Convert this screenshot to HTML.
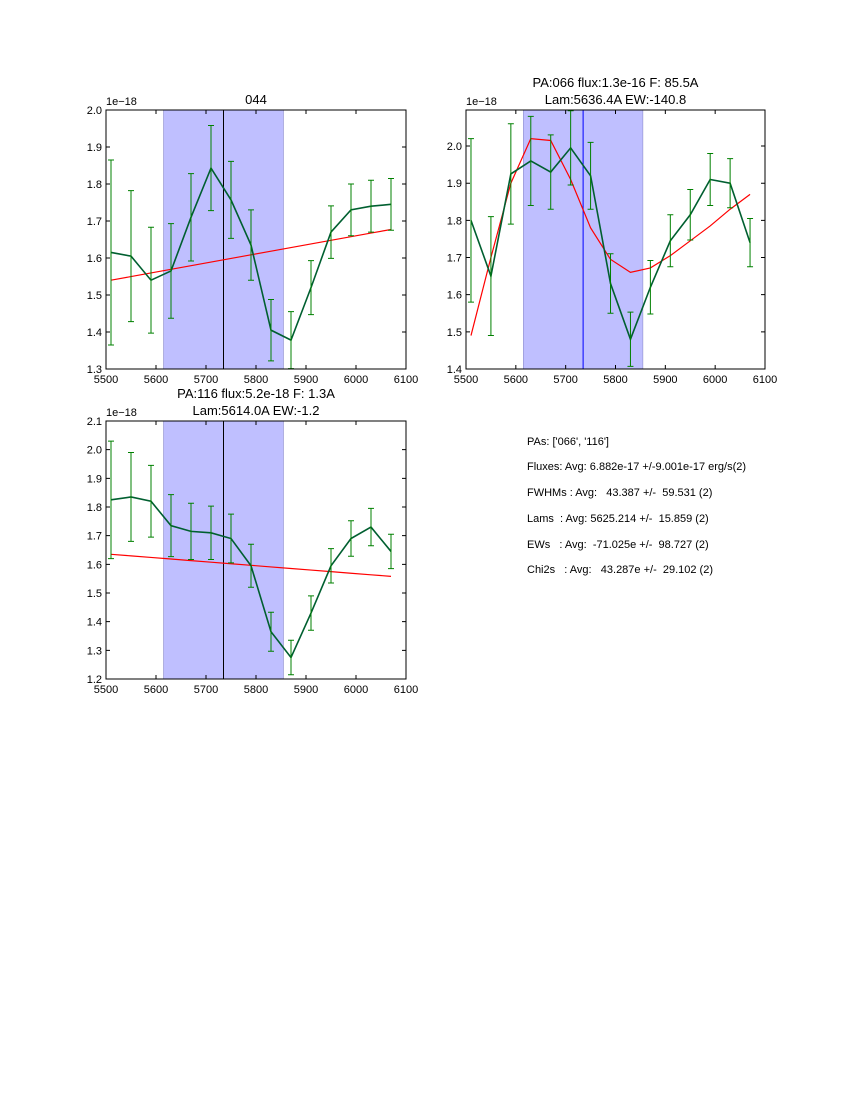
<!DOCTYPE html>
<html><head><meta charset="utf-8"><style>
body{margin:0;background:#fff;}
svg text{font-family:"Liberation Sans",sans-serif;}
#info text{white-space:pre;}
</style></head><body>
<svg id="s" width="850" height="1100" xmlns="http://www.w3.org/2000/svg">
<g id="info" font-size="11" fill="#000" xml:space="preserve">
<text x="527" y="445">PAs: ['066', '116']</text>
<text x="527" y="470">Fluxes: Avg: 6.882e-17 +/-9.001e-17 erg/s(2)</text>
<text x="527" y="496">FWHMs : Avg:   43.387 +/-  59.531 (2)</text>
<text x="527" y="522">Lams  : Avg: 5625.214 +/-  15.859 (2)</text>
<text x="527" y="548">EWs   : Avg:  -71.025e +/-  98.727 (2)</text>
<text x="527" y="573">Chi2s   : Avg:   43.287e +/-  29.102 (2)</text>
</g>
</svg>
<script>
const waves=[5510,5550,5590,5630,5670,5710,5750,5790,5830,5870,5910,5950,5990,6030,6070];
const flux1=[1.615,1.605,1.54,1.565,1.71,1.843,1.757,1.635,1.405,1.378,1.52,1.67,1.73,1.74,1.745];
const err1=[0.25,0.177,0.143,0.128,0.118,0.115,0.104,0.095,0.083,0.077,0.073,0.071,0.07,0.07,0.07];
const fit1=[1.54,1.5498,1.5596,1.5694,1.5792,1.589,1.5988,1.6086,1.6184,1.6282,1.638,1.6478,1.6576,1.6674,1.677];
const flux2=[1.8,1.65,1.925,1.96,1.93,1.995,1.92,1.63,1.48,1.62,1.745,1.815,1.91,1.9,1.74];
const err2=[0.22,0.16,0.135,0.12,0.1,0.1,0.09,0.08,0.073,0.072,0.07,0.068,0.07,0.066,0.065];
const fit2=[1.49,1.7,1.9,2.02,2.015,1.91,1.78,1.695,1.66,1.672,1.705,1.745,1.785,1.83,1.87];
const flux3=[1.825,1.835,1.82,1.735,1.715,1.71,1.69,1.595,1.365,1.275,1.43,1.595,1.69,1.73,1.645];
const err3=[0.205,0.155,0.125,0.108,0.098,0.093,0.085,0.075,0.068,0.06,0.06,0.06,0.062,0.065,0.06];
const fit3=[1.635,1.6295,1.624,1.6185,1.613,1.6075,1.602,1.5965,1.591,1.5855,1.58,1.5745,1.569,1.5635,1.558];
const xTicks=[5500,5600,5700,5800,5900,6000,6100];
const yTicks1=[1.3,1.4,1.5,1.6,1.7,1.8,1.9,2.0];
const yTicks2=[1.4,1.5,1.6,1.7,1.8,1.9,2.0];
const yTicks3=[1.2,1.3,1.4,1.5,1.6,1.7,1.8,1.9,2.0,2.1];
const band=[5615,5855], center=5735;
const NS="http://www.w3.org/2000/svg", svg=document.getElementById('s');
function mk(t,a,p){const e=document.createElementNS(NS,t);for(const k in a)e.setAttribute(k,a[k]);(p||svg).appendChild(e);return e;}
function panel(o){
 const g=mk('g',{});
 
 
 const X=v=>o.x0+(v-5500)/600*(o.x1-o.x0);
 const Y=v=>o.y1-(v-o.ymin)/(o.ymax-o.ymin)*(o.y1-o.y0);
 const b=mk('rect',{x:X(band[0]),y:o.y0,width:X(band[1])-X(band[0]),height:o.y1-o.y0,fill:'#bfbfff',stroke:'#8080c0','stroke-width':0.5},g);
 
 const c=mk('line',{x1:X(center),x2:X(center),y1:o.y0,y2:o.y1,stroke:o.vcol,'stroke-width':1},g);
 
 const fl=mk('polyline',{points:waves.map((w,i)=>X(w)+','+Y(o.fit[i])).join(' '),fill:'none',stroke:'#ff0000','stroke-width':1.2},g);
 
 const dl=mk('polyline',{points:waves.map((w,i)=>X(w)+','+Y(o.flux[i])).join(' '),fill:'none',stroke:'#005f30','stroke-width':1.6},g);
 
 waves.forEach((w,i)=>{
  const x=X(w),t=Y(o.flux[i]+o.err[i]),bb=Y(o.flux[i]-o.err[i]);
  const e=mk('path',{d:`M${x},${t}V${bb}M${x-3},${t}h6M${x-3},${bb}h6`,stroke:'#008000','stroke-width':1,fill:'none'},g);
  
 });
 const fr=mk('rect',{x:o.x0,y:o.y0,width:o.x1-o.x0,height:o.y1-o.y0,fill:'none',stroke:'#000','stroke-width':1},g);
 
 xTicks.forEach(v=>{const x=X(v);
  mk('path',{d:`M${x},${o.y1}v-4M${x},${o.y0}v4`,stroke:'#000'},g);
  const t=mk('text',{x:x,y:o.y1+14,'font-size':11,'text-anchor':'middle'},g);t.textContent=v;
  });
 o.yt.forEach(v=>{const y=Y(v);
  mk('path',{d:`M${o.x0},${y}h4M${o.x1},${y}h-4`,stroke:'#000'},g);
  const t=mk('text',{x:o.x0-4,y:y+4,'font-size':11,'text-anchor':'end'},g);t.textContent=v.toFixed(1);
  });
 const m=mk('text',{x:o.x0,y:o.y0-5,'font-size':11},g);m.textContent='1e\u221218';
 
 o.title.forEach((s,i)=>{const t=mk('text',{x:(o.x0+o.x1)/2,y:o.y0-(o.title.length-i-1)*17-6,'font-size':13,'text-anchor':'middle'},g);t.textContent=s;
  });
}
panel({name:'panel-044',x0:106,x1:406,y0:110,y1:369,ymin:1.3,ymax:2.0,yt:yTicks1,flux:flux1,err:err1,fit:fit1,vcol:'#000',title:['044']});
panel({name:'panel-066',x0:466,x1:765,y0:110,y1:369,ymin:1.4,ymax:2.097,yt:yTicks2,flux:flux2,err:err2,fit:fit2,vcol:'#0000ff',title:['PA:066 flux:1.3e-16 F: 85.5A','Lam:5636.4A EW:-140.8']});
panel({name:'panel-116',x0:106,x1:406,y0:421,y1:679,ymin:1.2,ymax:2.1,yt:yTicks3,flux:flux3,err:err3,fit:fit3,vcol:'#000',title:['PA:116 flux:5.2e-18 F: 1.3A','Lam:5614.0A EW:-1.2']});
</script>
</body></html>
